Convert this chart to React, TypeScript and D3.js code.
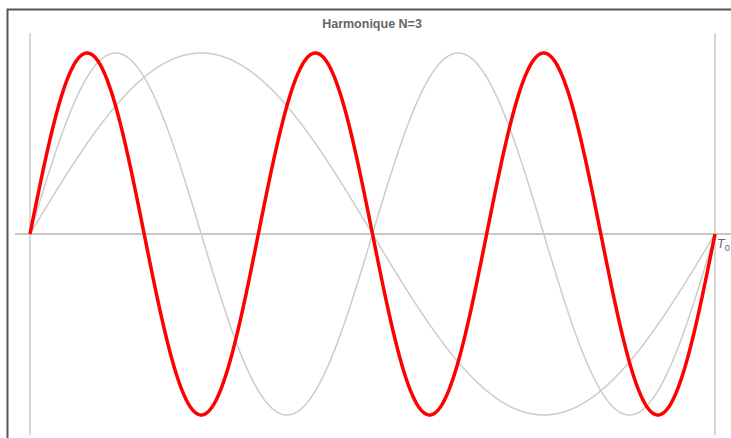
import React from "react";
import * as d3 from "d3";

const title = "Harmonique N=3";
const harmonics = [1, 2, 3];
const harmonicColors = ["#cccccc", "#cccccc", "#ff0000"];
const harmonicWidths = [1.5, 1.5, 3.5];
const xDomain = [0, 1];
const yDomain = [-1, 1];
const periodLabel = "T";
const periodSub = "0";

export default function App() {
  const W = 731, H = 438;
  const x = d3.scaleLinear().domain(xDomain).range([30, 715]);
  const y = d3.scaleLinear().domain(yDomain).range([415, 53]);
  const samples = d3.range(0, 1.0001, 1 / 600);
  const line = (n: number) =>
    d3.line<number>().x((t) => x(t)).y((t) => y(Math.sin(2 * Math.PI * n * t))).curve(d3.curveLinear)(samples) || "";

  return (
    <svg width={W} height={H} style={{ position: "fixed", left: 0, top: 0, background: "#fff", overflow: "hidden", display: "block" }}>
      <path d={`M7.5,${H}V9.5H${W}`} fill="none" stroke="#555" strokeWidth={2} />
      <text x={372} y={28} textAnchor="middle" fontFamily="Liberation Sans, Arial, sans-serif" fontWeight="bold" fontSize={12.5} fill="#666">
        {title}
      </text>
      <line x1={x(0)} x2={x(0)} y1={33} y2={435} stroke="#c8c8c8" strokeWidth={1.5} />
      <line x1={x(1)} x2={x(1)} y1={33} y2={435} stroke="#c8c8c8" strokeWidth={1.5} />
      <line x1={15} x2={W} y1={y(0)} y2={y(0)} stroke="#b4b4b4" strokeWidth={1.5} />
      {harmonics.map((n, i) => (
        <path key={n} d={line(n)} fill="none" stroke={harmonicColors[i]} strokeWidth={harmonicWidths[i]} strokeLinejoin="round" />
      ))}
      <text x={x(1) + 2} y={y(0) + 14} fontFamily="Liberation Sans, Arial, sans-serif" fontSize={12.5} fill="#666">
        <tspan fontStyle="italic">{periodLabel}</tspan>
        <tspan fontSize={9.5} dy={3}>{periodSub}</tspan>
      </text>
    </svg>
  );
}
